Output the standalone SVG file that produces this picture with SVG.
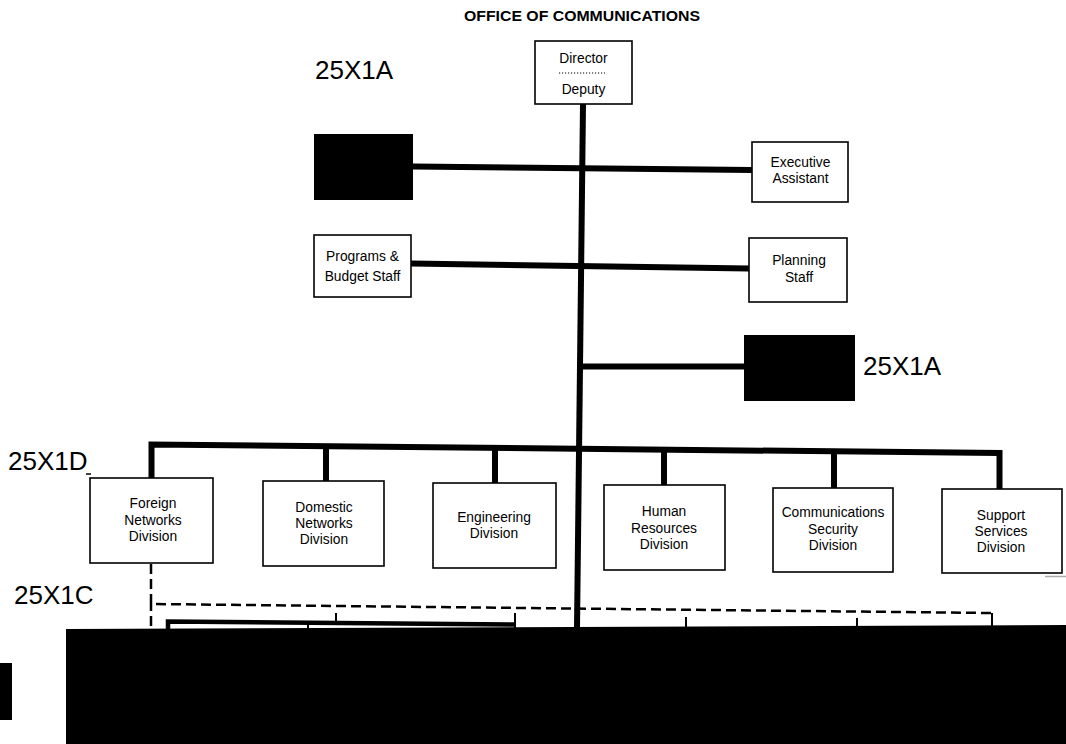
<svg xmlns="http://www.w3.org/2000/svg" width="1066" height="744" viewBox="0 0 1066 744">
  <style>
    .box { fill: #fff; stroke: #000; stroke-width: 1.6; }
    .blk { fill: #000; stroke: none; }
    .lbl { font-family: "Liberation Sans", Arial, sans-serif; font-size: 13.8px; fill: #000; text-anchor: middle; }
    .code { font-family: "Liberation Sans", Arial, sans-serif; font-size: 26px; fill: #000; }
    .title { font-family: "Liberation Sans", Arial, sans-serif; font-size: 14.5px; font-weight: bold; fill: #000; text-anchor: middle; }
    .heavy { fill: none; stroke: #000; stroke-width: 6; stroke-linecap: butt; stroke-linejoin: miter; }
    .mid { fill: none; stroke: #000; stroke-width: 4.5; stroke-linejoin: miter; }
    .tick { fill: none; stroke: #000; stroke-width: 2; }
    .dash { fill: none; stroke: #000; stroke-width: 2.5; stroke-dasharray: 10 5; }
  </style>

  <rect width="1066" height="744" fill="#fff"/>

  <text class="title" x="582" y="21" textLength="236" lengthAdjust="spacingAndGlyphs">OFFICE OF COMMUNICATIONS</text>

  <!-- connectors -->
  <g id="connectors">
    <!-- main trunk -->
    <line class="heavy" x1="583" y1="104" x2="577" y2="628"/>
    <!-- staff level links -->
    <line class="heavy" x1="413" y1="166.5" x2="752" y2="170"/>
    <line class="heavy" x1="411" y1="263.5" x2="749" y2="268.5"/>
    <line class="heavy" x1="580" y1="366.5" x2="744" y2="366.5"/>
    <!-- division bus and drops -->
    <polyline class="heavy" points="151.5,478 151.5,444.5 999.5,453 999.5,489"/>
    <line class="heavy" x1="326" y1="447" x2="326" y2="481"/>
    <line class="heavy" x1="495" y1="449" x2="495" y2="483"/>
    <line class="heavy" x1="664" y1="451" x2="664" y2="485"/>
    <line class="heavy" x1="834" y1="452" x2="834" y2="488"/>
    <!-- dashed liaison -->
    <polyline class="dash" points="151,564 151,604 992,613"/>
    <line class="dash" x1="151" y1="604" x2="151" y2="630" stroke-dashoffset="3"/>
    <!-- lower bracket and ticks -->
    <polyline class="mid" points="168,630 168,621.5 515,624.5"/>
    <line class="tick" x1="336" y1="613" x2="336" y2="622"/>
    <line class="tick" x1="308" y1="623" x2="308" y2="630"/>
    <line class="tick" x1="515" y1="613" x2="515" y2="630"/>
    <line class="tick" x1="686" y1="617" x2="686" y2="628"/>
    <line class="tick" x1="857" y1="618" x2="857" y2="628"/>
    <line class="tick" x1="992" y1="613" x2="992" y2="628"/>
    <!-- side mark under the last division -->
    <line x1="1045" y1="576.5" x2="1066" y2="576.5" stroke="#aaa" stroke-width="1.5"/>
  </g>

  <g id="director">
    <rect class="box" x="535" y="41" width="97" height="63"/>
    <text class="lbl" x="583.5" y="63">Director</text>
    <line x1="559" y1="73" x2="605" y2="73" stroke="#000" stroke-width="1" stroke-dasharray="1.2 1.8"/>
    <text class="lbl" x="583.5" y="94">Deputy</text>
  </g>

  <g id="code-top">
    <text class="code" x="315" y="79">25X1A</text>
  </g>

  <g id="blank-left">
    <rect class="blk" x="314" y="134" width="99" height="66"/>
  </g>

  <g id="executive-assistant">
    <rect class="box" x="752" y="142" width="96" height="60"/>
    <text class="lbl" x="800.5" y="167">Executive</text>
    <text class="lbl" x="800.5" y="183">Assistant</text>
  </g>

  <g id="programs-budget">
    <rect class="box" x="314" y="235" width="97" height="62"/>
    <text class="lbl" x="362.5" y="261">Programs &amp;</text>
    <text class="lbl" x="362.5" y="281">Budget Staff</text>
  </g>

  <g id="planning">
    <rect class="box" x="749" y="238" width="98" height="64"/>
    <text class="lbl" x="799" y="265">Planning</text>
    <text class="lbl" x="799" y="282">Staff</text>
  </g>

  <g id="blank-right">
    <rect class="blk" x="744" y="335" width="111" height="66"/>
    <text class="code" x="863" y="375">25X1A</text>
  </g>

  <g id="code-d">
    <text class="code" x="8" y="470">25X1D</text>
    <line x1="86" y1="474" x2="91" y2="474" stroke="#000" stroke-width="1.5"/>
  </g>

  <g id="code-c">
    <text class="code" x="14" y="604">25X1C</text>
  </g>

  <g id="foreign-networks">
    <rect class="box" x="90" y="478" width="123" height="85"/>
    <text class="lbl" x="153" y="508">Foreign</text>
    <text class="lbl" x="153" y="525">Networks</text>
    <text class="lbl" x="153" y="541">Division</text>
  </g>

  <g id="domestic-networks">
    <rect class="box" x="263" y="481" width="121" height="85"/>
    <text class="lbl" x="324" y="512">Domestic</text>
    <text class="lbl" x="324" y="528">Networks</text>
    <text class="lbl" x="324" y="544">Division</text>
  </g>

  <g id="engineering">
    <rect class="box" x="433" y="483" width="123" height="85"/>
    <text class="lbl" x="494" y="521.5">Engineering</text>
    <text class="lbl" x="494" y="538">Division</text>
  </g>

  <g id="human-resources">
    <rect class="box" x="604" y="485" width="121" height="85"/>
    <text class="lbl" x="664" y="516">Human</text>
    <text class="lbl" x="664" y="533">Resources</text>
    <text class="lbl" x="664" y="549">Division</text>
  </g>

  <g id="communications-security">
    <rect class="box" x="773" y="488" width="120" height="84"/>
    <text class="lbl" x="833" y="517">Communications</text>
    <text class="lbl" x="833" y="533.5">Security</text>
    <text class="lbl" x="833" y="550">Division</text>
  </g>

  <g id="support-services">
    <rect class="box" x="942" y="489" width="120" height="84"/>
    <text class="lbl" x="1001" y="520">Support</text>
    <text class="lbl" x="1001" y="536">Services</text>
    <text class="lbl" x="1001" y="552">Division</text>
  </g>

  <g id="blank-bottom">
    <polygon class="blk" points="66,629 1066,625 1066,744 66,744"/>
    <rect class="blk" x="0" y="663" width="12" height="57"/>
  </g>
</svg>
